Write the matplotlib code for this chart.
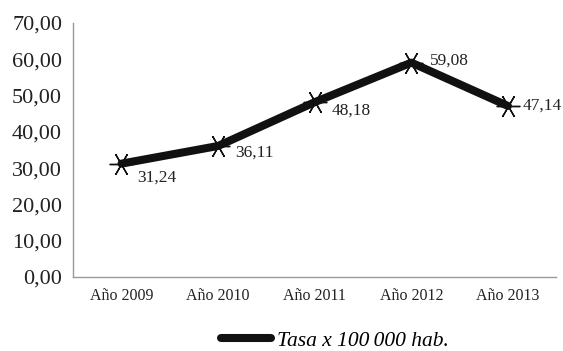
import matplotlib.pyplot as plt
from matplotlib.ticker import FuncFormatter

years = ['Año 2009', 'Año 2010', 'Año 2011', 'Año 2012', 'Año 2013']
tasa = [31.24, 36.11, 48.18, 59.08, 47.14]
# label offsets (px) from each point: right and down
label_dx = [16, 17, 17, 19, 15]
label_dy = [14, 7, 8, -2, 0]

plt.rcParams['font.family'] = ['Liberation Serif', 'DejaVu Serif']

fig = plt.figure(figsize=(5.63, 3.51), dpi=100)
ax = fig.add_axes([0.13, 1 - 277 / 351, 0.858, 254 / 351])

x = range(len(years))
ax.plot(x, tasa, color='#111111', lw=5.8, solid_capstyle='round',
        marker=(6, 2, 90), markersize=17, markeredgewidth=1.0,
        markeredgecolor='#111111', clip_on=False)

for i, v in enumerate(tasa):
    ax.annotate(f'{v:.2f}'.replace('.', ','), (i, v),
                xytext=(label_dx[i] * 0.72, -label_dy[i] * 0.72),
                textcoords='offset points', fontsize=12.5, color='#222222',
                va='center', ha='left')

ax.set_xlim(-0.5, len(years) - 0.5)
ax.set_ylim(0, 70)
ax.set_yticks(range(0, 71, 10))
ax.yaxis.set_major_formatter(FuncFormatter(lambda v, p: f'{v:.2f}'.replace('.', ',')))
ax.set_xticks(list(x))
ax.set_xticklabels(years)
ax.tick_params(axis='y', length=0, labelsize=16, pad=8, colors='#222222')
ax.tick_params(axis='x', length=0, labelsize=11.5, pad=8, colors='#222222')

for s in ['top', 'right']:
    ax.spines[s].set_visible(False)
for s in ['left', 'bottom']:
    ax.spines[s].set_color('#999999')
    ax.spines[s].set_linewidth(1.0)

fig.legend(handles=[plt.Line2D([], [], color='#111111', lw=5.8, solid_capstyle='round')],
           labels=['Tasa x 100\u2009000 hab.'], loc='center',
           bbox_to_anchor=(0.595, 0.03), frameon=False,
           prop={'style': 'italic', 'size': 15.5}, handlelength=2.3,
           handletextpad=0.3)

fig.savefig('out.png', dpi=100)
